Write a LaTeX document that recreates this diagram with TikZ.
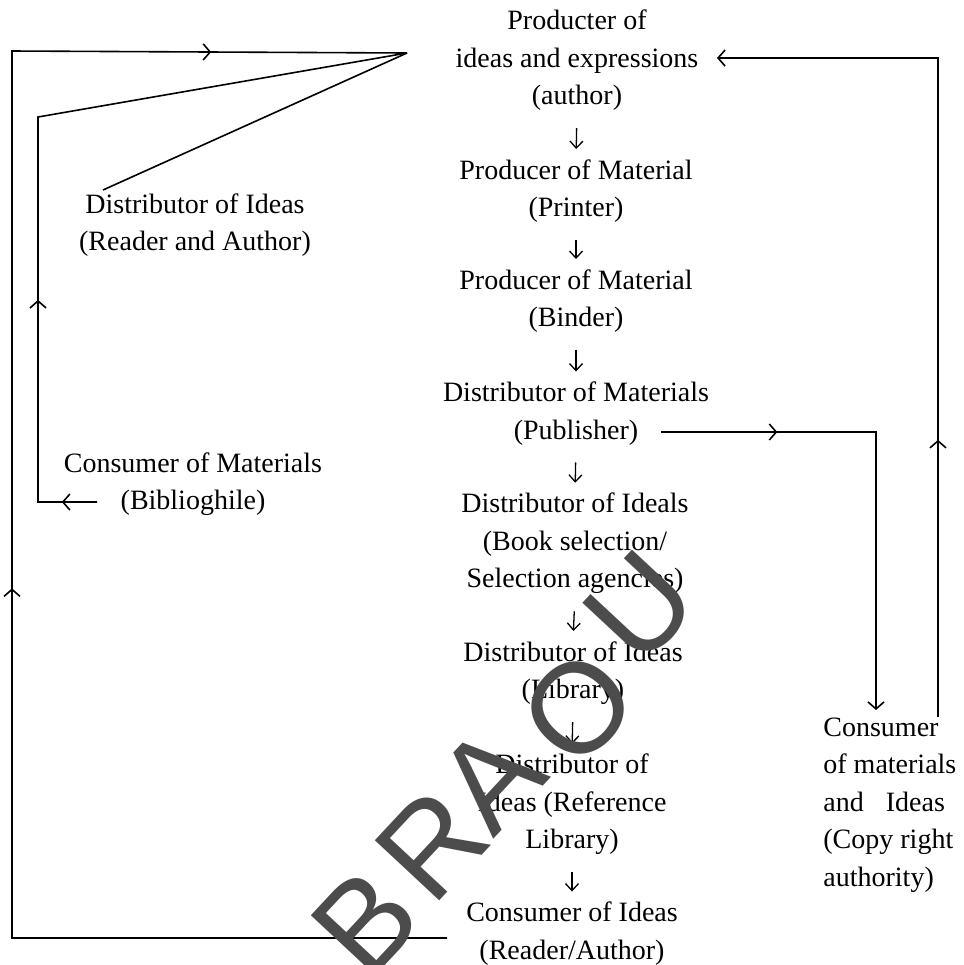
\documentclass[tikz,border=0pt]{standalone}
\usepackage{fontspec}
\setmainfont{Liberation Serif}
\newfontfamily\wmfont{Liberation Sans}
\usetikzlibrary{arrows.meta,decorations.markings}
\begin{document}
\begin{tikzpicture}[x=0.5pt,y=-0.5pt,
  lbl/.style={inner sep=0pt, align=center, font=\fontsize{14}{18.75}\selectfont},
  lblL/.style={inner sep=0pt, align=left, font=\fontsize{14}{18.75}\selectfont},
  flow/.style={line width=0.65pt, -{Straight Barb[length=3.5pt,width=6.5pt]}, shorten <=8.5pt, shorten >=5pt},
  loopline/.style={line width=0.8pt},
  endbarb/.style={-{Straight Barb[length=3.5pt,width=8pt]}},
  midarr/.style={postaction={decorate,decoration={markings,mark=at position #1 with {\arrow{Straight Barb[length=3.5pt,width=8pt]}}}}},
  wm/.style={text=black!70, font=\wmfont\fontsize{64}{64}\selectfont, rotate=47, inner sep=0pt}
]
\useasboundingbox (0,0) rectangle (964,965);

% main column
\node[lbl] (auth) at (577,60.5) {Producter of\\ideas and expressions\\(author)};
\node[lbl] (printer) at (576,191) {Producer of Material\\(Printer)};
\node[lbl] (binder) at (576,301) {Producer of Material\\(Binder)};
\node[lbl] (publisher) at (576,413.5) {Distributor of Materials\\(Publisher)};
\node[lbl] (booksel) at (575,543.5) {Distributor of Ideals\\(Book selection/\\Selection agencies)};
\node[lbl] (library) at (573,673) {Distributor of Ideas\\(Library)};
\node[lbl] (reflib) at (572,804.5) {Distributor of\\Ideas (Reference\\Library)};
\node[lbl] (consumer) at (572,933.5) {Consumer of Ideas\\(Reader/Author)};

% side nodes
\node[lbl] (readauth) at (195,225) {Distributor of Ideas\\(Reader and Author)};
\node[lbl] (biblio) at (193,484) {Consumer of Materials\\(Biblioghile)};
\node[lblL, anchor=west] (copyright) at (823,805) {Consumer\\of materials\\and\hspace{11pt}Ideas\\(Copy right\\authority)};

% main flow arrows
\draw[flow] (auth.south) -- (printer.north);
\draw[flow] (printer.south) -- (binder.north);
\draw[flow] (binder.south) -- (publisher.north);
\draw[flow] (publisher.south) -- (booksel.north);
\draw[flow] (booksel.south) -- (library.north);
\draw[flow] (library.south) -- (reflib.north);
\draw[flow] (reflib.south) -- (consumer.north);

% connector points
\coordinate (P) at (407,53);
\coordinate (TL) at (12,51);
\coordinate (cOut) at (447,938);
\coordinate (IC) at (38,117);
\coordinate (bOut) at (97,502);
\coordinate (raEnd) at (103,190);
\coordinate (crTop) at (938,717);
\coordinate (aIn) at (717,58);
\coordinate (pOut) at (661,432);
\coordinate (pIn) at (876,710);

% loops
\draw[loopline, midarr=0.457, midarr=0.886] (cOut) -| (TL) -- (P);
\draw[loopline, midarr=0.043, midarr=0.319] (bOut) -| (IC) -- (P);
\draw[loopline] (P) -- (raEnd);
\draw[loopline, endbarb, midarr=0.315] (crTop) |- (aIn);
\draw[loopline, endbarb, midarr=0.236] (pOut) -| (pIn);

% watermark
\node[wm] (wB) at (365,922) {B};
\node[wm] (wR) at (432,845) {R};
\node[wm] (wA) at (490,778) {A};
\node[wm] (wO) at (578,708) {O};
\node[wm] (wU) at (640,607) {U};
\end{tikzpicture}
\end{document}
